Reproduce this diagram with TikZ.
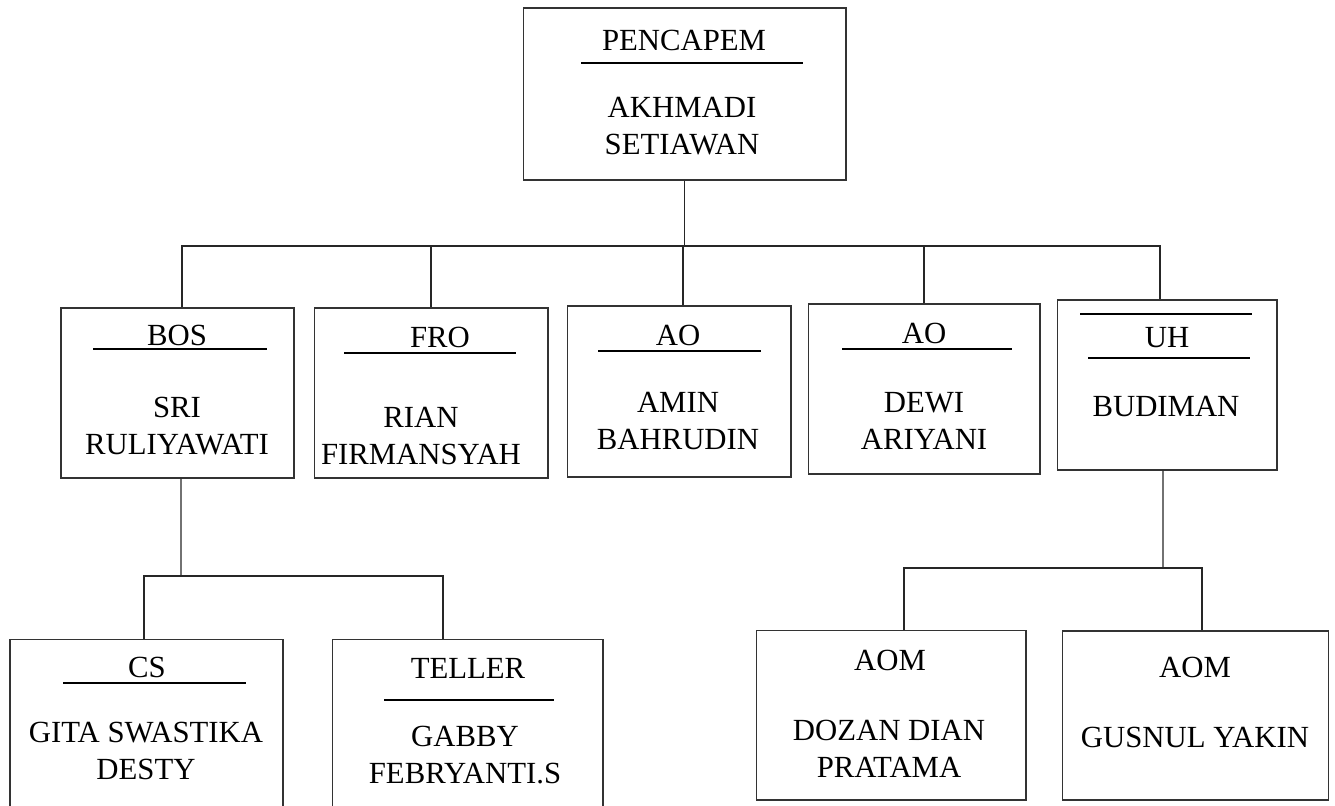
\documentclass[tikz,border=0pt]{standalone}
\usepackage{fontspec}
\setmainfont{Liberation Serif}
\begin{document}
\begin{tikzpicture}[x=0.02cm,y=-0.02cm]
            \tikzstyle{box}=[rectangle,draw=black!80,line width=0.6pt,inner sep=0]
            \tikzstyle{conn}=[draw=black!85,line width=0.6pt]
            \tikzstyle{uline}=[line width=1.2pt]
            \tikzstyle{post}=[inner sep=0,anchor=base,font=\fontsize{17.5}{21}\selectfont]
            \tikzstyle{person}=[inner sep=0,anchor=north,align=center,font=\fontsize{17.5}{21}\selectfont]

            \useasboundingbox (0,0) rectangle (1335,805);
            \clip (0,0) rectangle (1335,805);

            \node(pin)[box,minimum width=6.46cm,minimum height=3.44cm] at (684.5,94) {};
            \node(bos)[box,minimum width=4.66cm,minimum height=3.40cm] at (177.5,393) {};
            \node(fro)[box,minimum width=4.68cm,minimum height=3.40cm] at (431,393) {};
            \node(aoa)[box,minimum width=4.48cm,minimum height=3.42cm] at (679,391.5) {};
            \node(aob)[box,minimum width=4.64cm,minimum height=3.40cm] at (924,389) {};
            \node(uh)[box,minimum width=4.40cm,minimum height=3.40cm] at (1167,385) {};
            \node(cs)[box,minimum width=5.46cm,minimum height=3.44cm] at (146.5,725) {};
            \node(tel)[box,minimum width=5.42cm,minimum height=3.44cm] at (467.5,725) {};
            \node(aoma)[box,minimum width=5.40cm,minimum height=3.40cm] at (891,715) {};
            \node(aomb)[box,minimum width=5.32cm,minimum height=3.38cm] at (1195.5,715.5) {};

            \node(pint)[post] at (684,50) {PENCAPEM};
            \node(pinn)[person] at (682,97) {AKHMADI\\SETIAWAN};
            \node(bost)[post] at (177,345) {BOS};
            \node(bosn)[person] at (177,397) {SRI\\RULIYAWATI};
            \node(frot)[post] at (440,347) {FRO};
            \node(fron)[person] at (421,407) {RIAN\\FIRMANSYAH};
            \node(aoat)[post] at (678,345) {AO};
            \node(aoan)[person] at (678,392) {AMIN\\BAHRUDIN};
            \node(aobt)[post] at (924,343) {AO};
            \node(aobn)[person] at (924,392) {DEWI\\ARIYANI};
            \node(uht)[post] at (1167,347) {UH};
            \node(uhn)[person] at (1166,396) {BUDIMAN};
            \node(cst)[post] at (147,677) {CS};
            \node(csn)[person] at (146,722) {GITA SWASTIKA\\DESTY};
            \node(telt)[post] at (468,678) {TELLER};
            \node(teln)[person] at (465,726) {GABBY\\FEBRYANTI.S};
            \node(aomat)[post] at (890,670) {AOM};
            \node(aoman)[person] at (889,720) {DOZAN DIAN\\PRATAMA};
            \node(aombt)[post] at (1195,677) {AOM};
            \node(aombn)[person] at (1195,727) {GUSNUL YAKIN};

            \draw[uline] (581,63) -- (803,63);
            \draw[uline] (93,349) -- (267,349);
            \draw[uline] (344,353) -- (516,353);
            \draw[uline] (598,351) -- (761,351);
            \draw[uline] (842,349) -- (1012,349);
            \draw[uline] (1080,314) -- (1252,314);
            \draw[uline] (1088,358) -- (1250,358);
            \draw[uline] (63,683) -- (246,683);
            \draw[uline] (384,700) -- (554,700);

            \coordinate (j1) at (683,246);
            \coordinate (j2) at (181,576);
            \coordinate (j3) at (1163,568);

            \draw[conn] (pin.south) -- (pin.south |- j1);
            \draw[conn] ([xshift=0.09cm]bos.north) |- (j1) -| ([xshift=-0.14cm]uh.north);
            \draw[conn] (fro.north) -- (fro.north |- j1);
            \draw[conn] ([xshift=0.08cm]aoa.north) -- ([xshift=0.08cm]aoa.north |- j1);
            \draw[conn] (aob.north) -- (aob.north |- j1);

            \draw[conn] ([xshift=0.07cm]bos.south) -- (j2);
            \draw[conn] ([xshift=-0.05cm]cs.north) |- (j2) -| ([xshift=-0.49cm]tel.north);

            \draw[conn] ([xshift=-0.08cm]uh.south) -- (j3);
            \draw[conn] ([xshift=0.26cm]aoma.north) |- (j3) -| ([xshift=0.13cm]aomb.north);
        \end{tikzpicture}
\end{document}
